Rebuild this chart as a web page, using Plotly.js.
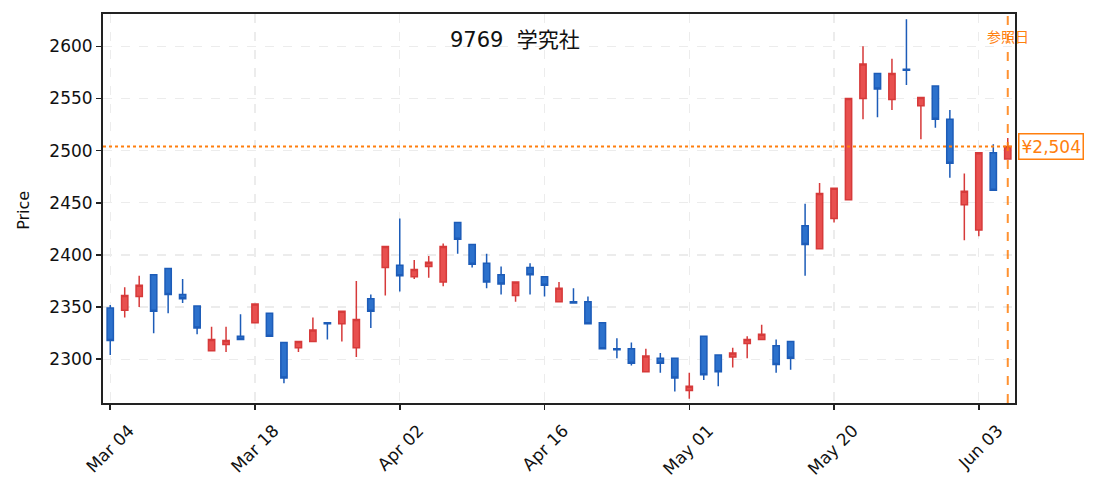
<!DOCTYPE html>
<html>
<head>
<meta charset="utf-8">
<script src="https://cdn.plot.ly/plotly-3.0.1.min.js"></script>
<style>
  html, body { margin: 0; padding: 0; background: #fff; }
  #chart { width: 1093px; height: 491px; }
</style>
</head>
<body>
<div id="chart"></div>
<script>
// trading-day index, ticks every 10 sessions
const tickIdx = [0, 10, 20, 30, 40, 50, 60];
const tickLabels = ['Mar 04', 'Mar 18', 'Apr 02', 'Apr 16', 'May 01', 'May 20', 'Jun 03'];

const openVals = [
  2349, 2347, 2360, 2381, 2387, 2362, 2351, 2308, 2314, 2322,
  2335, 2344, 2316, 2311, 2317, 2335, 2334, 2311, 2358, 2388,
  2390, 2379, 2389, 2374, 2431, 2410, 2392, 2381, 2361, 2388,
  2379, 2355, 2355, 2355, 2335, 2310, 2310, 2288, 2301, 2301,
  2270, 2322, 2304, 2302, 2315, 2319, 2313, 2317, 2428, 2406,
  2435, 2453, 2550, 2574, 2549, 2578, 2543, 2562, 2530, 2448,
  2424, 2498, 2492
];
const highVals = [
  2352, 2369, 2380, 2381, 2387, 2377, 2351, 2331, 2331, 2343,
  2353, 2344, 2316, 2317, 2340, 2335, 2346, 2375, 2362, 2408,
  2435, 2395, 2399, 2411, 2431, 2410, 2401, 2389, 2374, 2392,
  2379, 2374, 2368, 2360, 2335, 2320, 2316, 2310, 2306, 2301,
  2287, 2322, 2304, 2311, 2322, 2333, 2319, 2317, 2449, 2469,
  2464, 2550, 2600, 2574, 2588, 2626, 2551, 2562, 2539, 2478,
  2498, 2506, 2512
];
const lowVals = [
  2304, 2340, 2350, 2325, 2344, 2354, 2324, 2308, 2307, 2319,
  2335, 2322, 2277, 2307, 2317, 2319, 2317, 2302, 2330, 2361,
  2365, 2377, 2378, 2370, 2401, 2388, 2368, 2362, 2355, 2362,
  2360, 2355, 2354, 2334, 2310, 2301, 2294, 2288, 2287, 2269,
  2262, 2280, 2274, 2292, 2301, 2319, 2287, 2290, 2380, 2406,
  2431, 2453, 2530, 2532, 2539, 2563, 2511, 2522, 2474, 2414,
  2418, 2462, 2492
];
const closeVals = [
  2318, 2361, 2371, 2346, 2362, 2358, 2330, 2319, 2318, 2319,
  2353, 2322, 2282, 2317, 2328, 2334, 2346, 2338, 2346, 2408,
  2380, 2386, 2393, 2408, 2415, 2391, 2374, 2372, 2374, 2381,
  2371, 2368, 2354, 2334, 2310, 2309, 2296, 2303, 2296, 2282,
  2274, 2285, 2288, 2306, 2319, 2324, 2295, 2301, 2410, 2459,
  2464, 2550, 2583, 2559, 2574, 2577, 2551, 2530, 2488, 2461,
  2498, 2462, 2504
];

const lastIdx = closeVals.length - 1;
const lastClose = closeVals[lastIdx];
const xIdx = closeVals.map((_, i) => i);

const orange = '#ff7f0e';
const fontLatin = 'DejaVu Sans, Noto Sans CJK JP, sans-serif';

const data = [{
  type: 'candlestick',
  x: xIdx,
  open: openVals,
  high: highVals,
  low: lowVals,
  close: closeVals,
  whiskerwidth: 0,
  increasing: { line: { color: '#d63a3a', width: 1.5 }, fillcolor: '#e8504f' },
  decreasing: { line: { color: '#1d5cb8', width: 1.5 }, fillcolor: '#2c71cc' },
  hoverinfo: 'skip',
  showlegend: false
}];

const axisCommon = {
  showline: true,
  mirror: true,
  linecolor: '#222',
  linewidth: 2,
  ticks: 'outside',
  ticklen: 5,
  tickwidth: 1.5,
  tickcolor: '#222',
  showgrid: true,
  gridcolor: '#ececec',
  griddash: 'dash',
  gridwidth: 1.3,
  zeroline: false,
  tickfont: { family: fontLatin, size: 17, color: '#111' }
};

const layout = {
  width: 1093,
  height: 491,
  margin: { l: 103, r: 78, t: 14, b: 88 },
  paper_bgcolor: '#fff',
  plot_bgcolor: '#fff',
  hovermode: false,
  boxgap: 0.38,
  xaxis: Object.assign({}, axisCommon, {
    range: [-0.5, 62.5],
    tickmode: 'array',
    tickvals: tickIdx,
    ticktext: tickLabels,
    tickangle: -45,
    ticklabelshift: 19,
    ticklabelstandoff: 4,
    rangeslider: { visible: false }
  }),
  yaxis: Object.assign({}, axisCommon, {
    range: [2258, 2631],
    tickvals: [2300, 2350, 2400, 2450, 2500, 2550, 2600]
  }),
  shapes: [
    {
      type: 'line', xref: 'paper', yref: 'y',
      x0: 0, x1: 1, y0: lastClose, y1: lastClose,
      line: { color: orange, width: 2, dash: 'dot' }
    },
    {
      type: 'line', xref: 'x', yref: 'paper',
      x0: lastIdx, x1: lastIdx, y0: 0, y1: 1,
      line: { color: orange, width: 2, dash: 'dash' },
      opacity: 0.85
    }
  ],
  annotations: [
    {
      text: '9769\u00a0 学究社',
      xref: 'paper', yref: 'paper', x: 0.452, y: 0.933,
      showarrow: false, xanchor: 'center', yanchor: 'middle',
      font: { family: fontLatin, size: 21, color: '#111' }
    },
    {
      text: 'Price',
      xref: 'paper', yref: 'paper', x: -0.0866, y: 0.494,
      showarrow: false, textangle: -90, xanchor: 'center', yanchor: 'middle',
      font: { family: fontLatin, size: 16, color: '#111' }
    },
    {
      text: '参照日',
      xref: 'x', yref: 'paper', x: lastIdx, y: 0.944,
      showarrow: false, xanchor: 'center', yanchor: 'middle',
      font: { family: 'Noto Sans CJK JP, sans-serif', size: 14, color: orange }
    },
    {
      text: '¥' + lastClose.toLocaleString('en-US'),
      xref: 'paper', yref: 'y', x: 1.003, y: lastClose,
      showarrow: false, xanchor: 'left', yanchor: 'middle',
      bgcolor: '#fff', bordercolor: orange, borderwidth: 1.5, borderpad: 2,
      font: { family: fontLatin, size: 17, color: orange }
    }
  ]
};

Plotly.newPlot('chart', data, layout, { displayModeBar: false, staticPlot: true });
</script>
</body>
</html>
